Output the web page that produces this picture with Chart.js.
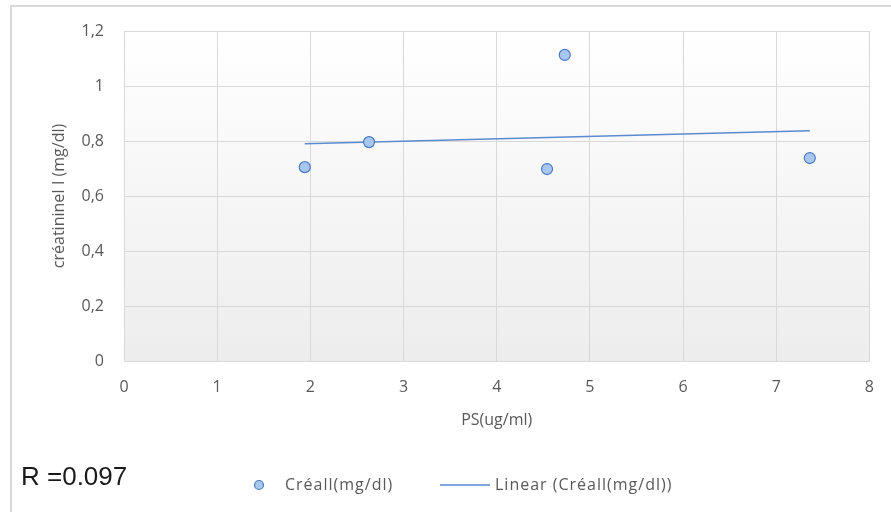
<!DOCTYPE html>
<html>
<head>
<meta charset="utf-8">
<script src="https://cdn.jsdelivr.net/npm/chart.js@4"></script>
<style>
  html, body { margin: 0; padding: 0; background: #fff; }
  #wrap { width: 891px; height: 512px; position: relative; }
</style>
</head>
<body>
<div id="wrap"><canvas id="grafica" width="891" height="512"></canvas></div>
<script>
const psValues = [1.94, 2.63, 4.54, 4.73, 7.36];
const creValues = [0.705, 0.796, 0.698, 1.113, 0.738];
const seriesName = 'Créall(mg/dl)';
const trendName = 'Linear (Créall(mg/dl))';
const rLabel = 'R =0.097';

// least squares fit for the trendline
const n = psValues.length;
const mx = psValues.reduce((a, b) => a + b, 0) / n;
const my = creValues.reduce((a, b) => a + b, 0) / n;
let sxy = 0, sxx = 0;
for (let i = 0; i < n; i++) {
  sxy += (psValues[i] - mx) * (creValues[i] - my);
  sxx += (psValues[i] - mx) ** 2;
}
const slope = sxy / sxx;
const icpt = my - slope * mx;
const xLo = Math.min(...psValues), xHi = Math.max(...psValues);

const points = psValues.map((x, i) => ({ x: x, y: creValues[i] }));
const trend = [{ x: xLo, y: icpt + slope * xLo }, { x: xHi, y: icpt + slope * xHi }];

const fontFam = "'Open Sans', sans-serif";
const grey = '#595959';

const decor = {
  id: 'decor',
  beforeDraw(chart) {
    const ctx = chart.ctx;
    const a = chart.chartArea;
    ctx.save();
    ctx.strokeStyle = '#d9d9d9';
    ctx.lineWidth = 2;
    ctx.strokeRect(11, 6, 900, 520);
    const g = ctx.createLinearGradient(0, a.top, 0, a.bottom);
    g.addColorStop(0, '#ffffff');
    g.addColorStop(1, '#ededed');
    ctx.fillStyle = g;
    ctx.fillRect(a.left, a.top, a.right - a.left, a.bottom - a.top);
    ctx.restore();
  },
  afterDraw(chart) {
    const ctx = chart.ctx;
    const ds = chart.data.datasets;
    ctx.save();
    // R label
    ctx.fillStyle = '#1a1a1a';
    ctx.font = "26px 'Liberation Sans', Arial, sans-serif";
    ctx.textBaseline = 'alphabetic';
    ctx.fillText(rLabel, 21, 485);
    // legend
    const ly = 485;
    ctx.font = '16px ' + fontFam;
    ctx.letterSpacing = '1px';
    ctx.textBaseline = 'middle';
    ctx.beginPath();
    ctx.arc(259, ly, 4.5, 0, Math.PI * 2);
    ctx.fillStyle = ds[0].backgroundColor;
    ctx.fill();
    ctx.lineWidth = 1.2;
    ctx.strokeStyle = ds[0].borderColor;
    ctx.stroke();
    ctx.fillStyle = grey;
    ctx.fillText(ds[0].label, 285, ly);
    ctx.beginPath();
    ctx.moveTo(440, ly);
    ctx.lineTo(490, ly);
    ctx.lineWidth = 1.5;
    ctx.strokeStyle = ds[1].borderColor;
    ctx.stroke();
    ctx.fillText(ds[1].label, 495, ly);
    ctx.restore();
  }
};

new Chart(document.querySelector('#grafica'), {
  type: 'scatter',
  data: {
    datasets: [
      {
        label: seriesName,
        data: points,
        backgroundColor: '#a9c6ef',
        borderColor: '#4a7bc4',
        borderWidth: 1.2,
        pointRadius: 5.5
      },
      {
        label: trendName,
        type: 'line',
        data: trend,
        borderColor: '#5b8bd0',
        borderWidth: 1.5,
        pointRadius: 0,
        fill: false
      }
    ]
  },
  options: {
    responsive: false,
    animation: false,
    layout: { padding: { left: 50, right: 18, top: 31, bottom: 82 } },
    plugins: {
      tooltip: { enabled: false },
      legend: { display: false }
    },
    scales: {
      x: {
        type: 'linear',
        min: 0, max: 8,
        ticks: { stepSize: 1, color: grey, padding: 17, font: { family: fontFam, size: 16 } },
        grid: { color: '#d9d9d9', drawTicks: false },
        border: { color: '#d9d9d9' },
        title: { display: true, text: 'PS(ug/ml)', color: grey, font: { family: fontFam, size: 16 }, padding: 0 },
        afterFit(s) { s.height = 69; }
      },
      y: {
        min: 0, max: 1.2,
        ticks: {
          stepSize: 0.2, color: grey, padding: 20, font: { family: fontFam, size: 16 },
          callback: v => String(Math.round(v * 10) / 10).replace('.', ',')
        },
        grid: { color: '#d9d9d9', drawTicks: false },
        border: { color: '#d9d9d9' },
        title: { display: true, text: 'créatinineI I (mg/dl)', color: grey, font: { family: fontFam, size: 16 }, padding: 0 },
        afterFit(s) { s.width = 74; }
      }
    }
  },
  plugins: [decor]
});
</script>
</body>
</html>
